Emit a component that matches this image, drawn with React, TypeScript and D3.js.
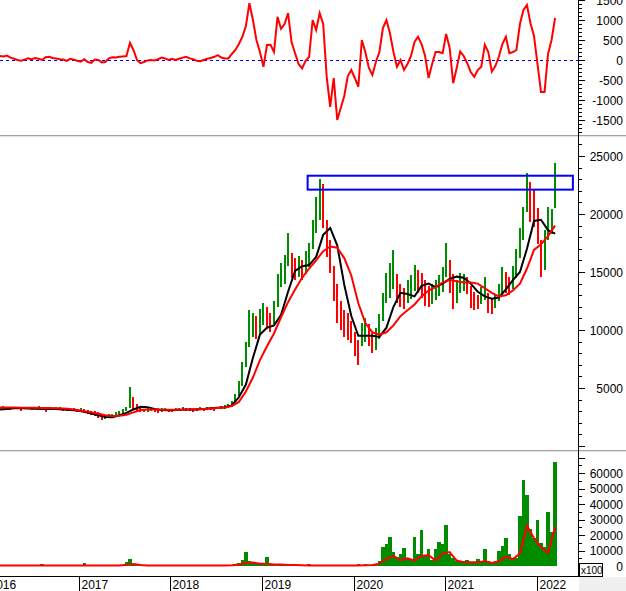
import * as d3 from 'd3';

// two-week bars starting late Feb 2016
const START = new Date(2016, 1, 22);
const STEP_DAYS = 14;
const MA_STEP_DAYS = 28;

const priceHigh = [
  3400, 3450, 3400, 3350, 3400, 3350, 3300, 3400, 3350, 3300,
  3400, 3450, 3350, 3300, 3350, 3300, 3350, 3400, 3300, 3250,
  3300, 3250, 3200, 3250, 3150, 3100, 3050, 3000, 2900, 2800,
  2700, 2800, 2750, 2900, 3000, 3200, 3400, 5100, 4200, 3600,
  3300, 3200, 3250, 3300, 3200, 3100, 3250, 3300, 3200, 3150,
  3250, 3300, 3400, 3300, 3250, 3200, 3300, 3350, 3300, 3400,
  3350, 3300, 3400, 3450, 3500, 3600, 3900, 4500, 5600, 7200,
  9000, 11700, 11500, 11200, 11800, 12300, 12000, 11500, 12500, 14800,
  15800, 16500, 18400, 16600, 16200, 16400, 16000, 16800, 17500, 19500,
  21500, 23000, 22600, 19500, 17800, 15500, 14000, 12500, 11700, 11500,
  10800, 9800, 9100, 10600, 11000, 10500, 9700, 10200, 11400, 13200,
  14900, 15800, 16900, 14800, 14000, 13600, 14300, 14700, 15600, 15200,
  14900, 14300, 13800, 14000, 14300, 14700, 15400, 17500, 16000, 14800,
  14300, 14900, 14800, 14600, 13800, 13300, 13000, 13700, 14600, 13200,
  12800, 13000, 14000, 15400, 15000, 14600, 15500, 17000, 18800, 20600,
  23500, 22800, 22100, 20500, 17800, 18600, 20600, 20400, 24400,
];

const priceLow = [
  3150, 3200, 3150, 3100, 3200, 3150, 3050, 3150, 3200, 3100,
  3150, 3200, 3100, 2900, 3150, 3100, 3150, 3200, 3050, 3000,
  3100, 3000, 2950, 3000, 2850, 2800, 2700, 2600, 2400, 2200,
  2300, 2400, 2450, 2600, 2700, 2850, 3000, 3300, 3200, 3000,
  2950, 2900, 2950, 3000, 2900, 2850, 2950, 3050, 2950, 2900,
  3000, 3050, 3100, 3000, 3000, 2900, 3050, 3100, 3050, 3100,
  3100, 3050, 3150, 3200, 3200, 3250, 3400, 3700, 4300, 5200,
  6800, 8500, 9400, 9200, 9600, 10400, 10200, 9800, 10500, 12000,
  13700, 14000, 15500, 14500, 14300, 14600, 14300, 14800, 15400, 17000,
  18400, 19500, 18800, 16300, 14900, 12500, 10600, 10000, 9400, 9100,
  8900, 7800, 7000, 8600, 9000, 8600, 8000, 8300, 9200, 10800,
  12300, 12800, 13500, 12300, 12000, 11800, 12300, 12700, 13400, 13200,
  12800, 12100, 12000, 12200, 12600, 12900, 13300, 14600, 13200, 11800,
  12300, 13200, 13400, 13100, 11900, 11700, 11800, 12200, 12600, 11500,
  11400, 11900, 12500, 12900, 13200, 13000, 13500, 14500, 16200, 17800,
  20200, 19300, 18900, 17400, 14600, 15200, 17800, 18300, 20500,
];

const oscillator = [
  100, 90, 110, 60, 30, 0, -20, 10, 40, 20,
  50, 30, 0, 70, 80, 50, 40, 20, 10, -20,
  30, 10, -20, -40, 20, -50, -70, 10, 0, -60,
  -50, 40, 70, 60, 80, 90, 100, 430, 250, 0,
  -80, -50, -10, 0, -10, 20, 60, 40, 0, 30,
  0, 30, 60, 80, 40, 20, -20, -30, 0, 30,
  50, 80, 120, 60, 40, 40, 150, 250, 400, 580,
  850, 1420, 1000, 500, 200, -170, 375, 380, 200, 1080,
  780, 900, 1170, 450, 170, -100, -210, -20, 80, 1000,
  750, 1170, 900, -420, -1170, -450, -1500, -1200, -900, -400,
  -250, -450, -670, 500, 200, -200, -375, -50, 200, 800,
  1000, 670, 200, -170, 0, -250, -100, 100, 450, 580,
  400, 100, -450, -100, 200, 200, 170, 650, 300, -580,
  -200, 210, 100, -80, -300, -420, -250, -170, 380, 200,
  -290, -150, 80, 400, 580, 170, 200, 250, 900, 1250,
  1375, 920, 600, -100, -800, -800, 150, 500, 1050,
];

const volume = [
  400, 300, 500, 300, 400, 300, 300, 400, 300, 300,
  400, 300, 1500, 400, 300, 300, 400, 300, 300, 300,
  400, 300, 300, 300, 2000, 400, 300, 300, 400, 300,
  300, 400, 300, 300, 400, 500, 2500, 4200, 1500, 600,
  400, 300, 300, 400, 300, 300, 400, 300, 300, 300,
  400, 300, 300, 300, 400, 300, 300, 300, 400, 300,
  300, 400, 300, 500, 600, 800, 700, 1000, 2000, 4000,
  9000, 3000, 2000, 1200, 1000, 1500, 6000, 1500, 1000, 800,
  1200, 900, 1500, 800, 1000, 700, 600, 800, 1000, 700,
  900, 600, 700, 600, 500, 700, 500, 600, 500, 400,
  600, 800, 1000, 700, 1200, 900, 800, 1500, 3000, 12000,
  14000, 18400, 9000, 6000, 8000, 11600, 5000, 4000, 18400, 8000,
  23400, 7000, 11000, 4000, 11000, 15500, 14400, 26500, 8000, 5000,
  3500, 3000, 3500, 4000, 2500, 2000, 4500, 3000, 11000, 3500,
  2000, 3000, 10000, 13000, 18000, 8000, 5000, 5000, 32000, 55500,
  46000, 24000, 18000, 30000, 15000, 12000, 35000, 22000, 67000,
];

// four-week samples of the moving averages
const maFast = [
  3150, 3200, 3250, 3250, 3230, 3220, 3200, 3200, 3180, 3150,
  3100, 3050, 2950, 2800, 2650, 2500, 2480, 2650, 2850, 3150,
  3380, 3350, 3200, 3100, 3080, 3100, 3120, 3150, 3150, 3200,
  3250, 3300, 3350, 3500, 4200, 5300, 7600, 9600, 10200, 10400,
  11300, 13300, 15100, 15500, 15600, 16300, 18200, 18800, 17300, 13900,
  11200, 9500, 9500, 9500, 9400, 10200, 12000, 13200, 13100, 12900,
  13800, 14000, 13700, 14000, 14400, 14600, 14500, 14000, 13300, 12900,
  12700, 12800, 13500, 14300, 15000, 17000, 19400, 19500, 18600, 18300,
];

const maSlow = [
  3320, 3320, 3310, 3300, 3300, 3290, 3280, 3270, 3250, 3230,
  3180, 3100, 3000, 2900, 2780, 2650, 2580, 2600, 2700, 2900,
  3100, 3150, 3150, 3130, 3120, 3120, 3130, 3150, 3170, 3200,
  3230, 3270, 3320, 3450, 3800, 4700, 5900, 7400, 8600, 9700,
  11100, 12400, 13500, 14500, 15300, 16000, 16800, 17200, 17100, 16200,
  14700, 12300, 10600, 9800, 9600, 9800, 10400, 11200, 11700, 12200,
  12900, 13400, 13700, 14100, 14300, 14200, 14100, 14100, 14000, 13600,
  13200, 12900, 13000, 13400, 14000, 15300, 16900, 17400, 18100, 19000,
];

const volumeMa = [
  300, 300, 300, 300, 300, 300, 300, 300, 300, 300,
  300, 300, 350, 300, 300, 300, 300, 350, 800, 1300,
  700, 300, 300, 300, 300, 300, 300, 300, 300, 300,
  300, 300, 300, 500, 1000, 2000, 2200, 1500, 1500, 1000,
  900, 700, 600, 500, 400, 400, 400, 400, 400, 400,
  400, 400, 500, 700, 1500, 4500, 6600, 3800, 5000, 3500,
  6500, 7000, 3500, 8000, 9000, 3500, 2500, 2500, 2500, 3000,
  2000, 3000, 6000, 4500, 8000, 26000, 18000, 12000, 8500, 25000,
];

const boxLevels = [22100, 23300];
const boxDates = [new Date(2019, 6, 2), new Date(2022, 4, 24)];

const years = [2016, 2017, 2018, 2019, 2020, 2021, 2022];
const oscLabels = [-1500, -1000, -500, 0, 500, 1000, 1500];
const priceLabels = [5000, 10000, 15000, 20000, 25000];
const volLabels = [0, 10000, 20000, 30000, 40000, 50000, 60000];

const W = 626;
const H = 591;
const AXIS_X = 578;
const X_AXIS_Y = 576.5;
const GREEN = '#008c00';
const RED = '#ff0000';
const FONT = "'Liberation Sans', Arial, sans-serif";

const xs = d3.scaleTime()
  .domain([new Date(2016, 0, 1), new Date(2022, 0, 1)])
  .range([-13.1, 537]);
const barDate = (i: number) => d3.timeDay.offset(START, i * STEP_DAYS);
const maDate = (k: number) => d3.timeDay.offset(START, k * MA_STEP_DAYS);

const yOsc = d3.scaleLinear().domain([-1500, 1500]).range([120, 0]);
const yPrice = d3.scaleLinear().domain([0, 25000]).range([446, 156]);
const yVol = d3.scaleLinear().domain([0, 60000]).range([566, 473]);

const Ticks = ({scale, minor, major, labels, clipId}: any) => (
  <g clipPath={`url(#${clipId})`}>
    {minor.map((v: number) => (
      <line key={'m' + v} x1={AXIS_X} x2={AXIS_X + 4}
            y1={Math.round(scale(v)) + 0.5} y2={Math.round(scale(v)) + 0.5} stroke="#000"/>
    ))}
    {major.map((v: number) => (
      <line key={'M' + v} x1={AXIS_X} x2={AXIS_X + 7}
            y1={Math.round(scale(v)) + 0.5} y2={Math.round(scale(v)) + 0.5} stroke="#000"/>
    ))}
    {labels.map((v: number) => (
      <text key={'t' + v} x={623} y={scale(v) + 4.5} textAnchor="end"
            fontSize={12} fontFamily={FONT} fill="#000">{v}</text>
    ))}
  </g>
);

export default function App() {
  const oscLine = d3.line<number>()
    .x((_, i) => xs(barDate(i)))
    .y(d => yOsc(d));
  const fastLine = d3.line<number>()
    .x((_, k) => xs(maDate(k)))
    .y(d => yPrice(d));
  const slowLine = d3.line<number>()
    .x((_, k) => xs(maDate(k)))
    .y(d => yPrice(d));
  const volLine = d3.line<number>()
    .x((_, k) => xs(maDate(k)))
    .y(d => yVol(d));

  const mids = priceHigh.map((h, i) => (h + priceLow[i]) / 2);
  const volStep = xs(barDate(1)) - xs(barDate(0));

  return (
    <svg width={W} height={H} style={{position: 'absolute', left: 0, top: 0, display: 'block', background: '#fff'}}>
      <defs>
        <clipPath id="cTop"><rect x={0} y={0} width={AXIS_X} height={134}/></clipPath>
        <clipPath id="cMid"><rect x={0} y={137} width={AXIS_X} height={312}/></clipPath>
        <clipPath id="cBot"><rect x={0} y={452} width={AXIS_X} height={124}/></clipPath>
        <clipPath id="aTop"><rect x={AXIS_X} y={0} width={W - AXIS_X} height={134}/></clipPath>
        <clipPath id="aMid"><rect x={AXIS_X} y={137} width={W - AXIS_X} height={312}/></clipPath>
        <clipPath id="aBot"><rect x={AXIS_X} y={452} width={W - AXIS_X} height={124}/></clipPath>
      </defs>

      {/* oscillator panel */}
      <g clipPath="url(#cTop)">
        <line x1={0} x2={AXIS_X} y1={Math.round(yOsc(0)) + 0.5} y2={Math.round(yOsc(0)) + 0.5}
              stroke="#0000ff" strokeDasharray="3,3"/>
        <path d={oscLine(oscillator) || ''} fill="none" stroke={RED} strokeWidth={2}/>
      </g>

      {/* price panel */}
      <g clipPath="url(#cMid)">
        {priceHigh.map((h, i) => {
          const up = i === 0 || mids[i] >= mids[i - 1];
          const y1 = yPrice(h);
          const y2 = yPrice(priceLow[i]);
          return (
            <rect key={i} x={xs(barDate(i)) - 1} y={y1} width={2} height={Math.max(1, y2 - y1)}
                  fill={up ? GREEN : RED} shapeRendering="crispEdges"/>
          );
        })}
        <path d={fastLine(maFast) || ''} fill="none" stroke="#000" strokeWidth={2}/>
        <path d={slowLine(maSlow) || ''} fill="none" stroke={RED} strokeWidth={2}/>
        <rect x={xs(boxDates[0])} y={yPrice(boxLevels[1])}
              width={xs(boxDates[1]) - xs(boxDates[0])}
              height={yPrice(boxLevels[0]) - yPrice(boxLevels[1])}
              fill="none" stroke="#0000ff" strokeWidth={2}/>
      </g>

      {/* volume panel */}
      <g clipPath="url(#cBot)">
        {volume.map((v, i) => (
          <rect key={i} x={xs(barDate(i)) - volStep / 2} y={yVol(v)} width={volStep}
                height={yVol(0) - yVol(v)} fill={GREEN} shapeRendering="crispEdges"/>
        ))}
        <path d={volLine(volumeMa) || ''} fill="none" stroke={RED} strokeWidth={2}/>
      </g>

      {/* panel separators */}
      <line x1={0} x2={W} y1={135.5} y2={135.5} stroke="#a0a0a0"/>
      <line x1={0} x2={W} y1={136.5} y2={136.5} stroke="#e3e3e3"/>
      <line x1={0} x2={W} y1={450.5} y2={450.5} stroke="#a0a0a0"/>
      <line x1={0} x2={W} y1={451.5} y2={451.5} stroke="#e3e3e3"/>

      {/* right axis */}
      <line x1={AXIS_X + 0.5} x2={AXIS_X + 0.5} y1={0} y2={X_AXIS_Y} stroke="#000"/>
      <Ticks scale={yOsc} clipId="aTop" minor={d3.range(-1800, 1600, 100)}
             major={d3.range(-1500, 2000, 500)} labels={oscLabels}/>
      <Ticks scale={yPrice} clipId="aMid" minor={d3.range(0, 27000, 1000)}
             major={d3.range(0, 30000, 5000)} labels={priceLabels}/>
      <Ticks scale={yVol} clipId="aBot" minor={d3.range(0, 75000, 5000)}
             major={d3.range(0, 80000, 10000)} labels={volLabels}/>

      <rect x={579.5} y={563.5} width={23} height={13} fill="#fff" stroke="#000"/>
      <text x={581} y={574} fontSize={10} fontFamily={FONT} fill="#000">x100</text>

      {/* time axis */}
      <rect x={AXIS_X + 1} y={X_AXIS_Y + 0.5} width={W - AXIS_X} height={H - X_AXIS_Y} fill="#f0f0f0"/>
      <line x1={0} x2={AXIS_X + 1} y1={X_AXIS_Y} y2={X_AXIS_Y} stroke="#000"/>
      {years.map(yr => {
        const px = Math.round(xs(new Date(yr, 0, 1))) + 0.5;
        return (
          <g key={yr}>
            <line x1={px} x2={px} y1={X_AXIS_Y} y2={H} stroke="#000"/>
            <text x={px + 2} y={589} fontSize={12} fontFamily={FONT} fill="#000">{yr}</text>
          </g>
        );
      })}
    </svg>
  );
}
